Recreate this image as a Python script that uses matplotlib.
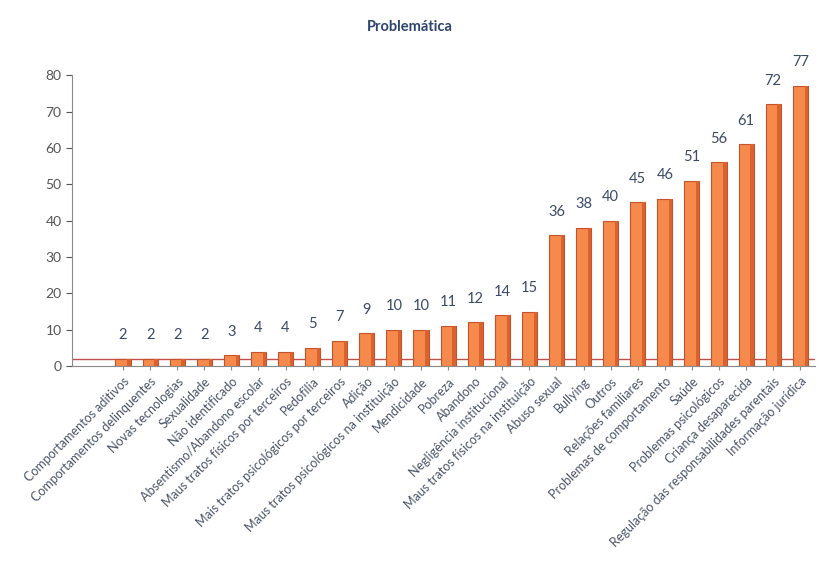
import matplotlib
matplotlib.use("Agg")
import matplotlib.pyplot as plt
import numpy as np

plt.rcParams['font.family'] = ['Lato', 'DejaVu Sans']

title = "Problemática"
categories = [
    "Comportamentos aditivos",
    "Comportamentos delinquentes",
    "Novas tecnologias",
    "Sexualidade",
    "Não identificado",
    "Absentismo/Abandono escolar",
    "Maus tratos físicos por terceiros",
    "Pedofilia",
    "Mais tratos psicológicos por terceiros",
    "Adição",
    "Maus tratos psicológicos na instituição",
    "Mendicidade",
    "Pobreza",
    "Abandono",
    "Negligência institucional",
    "Maus tratos físicos na instituição",
    "Abuso sexual",
    "Bullying",
    "Outros",
    "Relações familiares",
    "Problemas de comportamento",
    "Saúde",
    "Problemas psicológicos",
    "Criança desaparecida",
    "Regulação das responsabilidades parentais",
    "Informação jurídica",
]
values = [2, 2, 2, 2, 3, 4, 4, 5, 7, 9, 10, 10, 11, 12, 14, 15,
          36, 38, 40, 45, 46, 51, 56, 61, 72, 77]
yticks = [0, 10, 20, 30, 40, 50, 60, 70, 80]

fig = plt.figure(figsize=(8.19, 5.65), dpi=100)
ax = fig.add_axes([0.088, 0.352, 0.907, 0.515])

x = np.arange(len(categories))
bars = ax.bar(x, values, width=0.56, color='#F58A4C', edgecolor='#C4532B',
              linewidth=0.8, zorder=3)
# darker right face for a pseudo 3D look
for b in bars:
    ax.bar(b.get_x() + b.get_width() * 0.78, b.get_height(),
           width=b.get_width() * 0.22, align='edge',
           color='#D9622F', linewidth=0, zorder=4)

ax.axhline(2, color='#C0504D', linewidth=1.0, zorder=2)

for xi, v in zip(x, values):
    ax.annotate(str(v), (xi, v), xytext=(0, 17), textcoords='offset points',
                ha='center', va='center', fontsize=10.5, color='#3B4A66')

ax.set_xlim(-1.88, len(categories) - 0.46)
ax.set_ylim(0, 80)
ax.set_yticks(yticks)
ax.set_xticks(x)
ax.set_xticklabels(categories, rotation=45, ha='right', rotation_mode='anchor',
                   fontsize=9, color='#4A5468')
ax.tick_params(axis='y', labelsize=10, colors='#555555', length=4)
ax.tick_params(axis='x', length=3, colors='#8A8A8A', labelcolor='#4A5468')

for s in ['top', 'right']:
    ax.spines[s].set_visible(False)
for s in ['left', 'bottom']:
    ax.spines[s].set_color('#8A8A8A')

fig.text(0.5, 0.952, title, ha='center', va='center', fontsize=10.5,
         fontweight='bold', color='#2E4470')

fig.savefig('out.png', dpi=100)
